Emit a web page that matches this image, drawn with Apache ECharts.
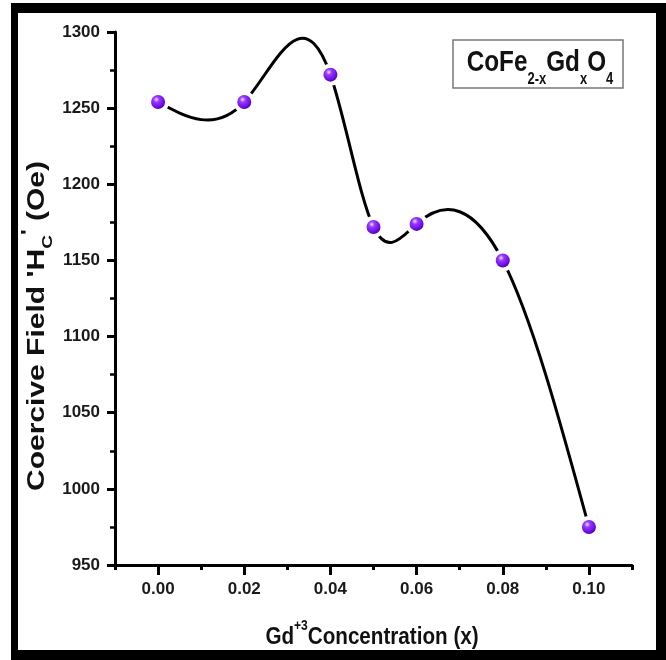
<!DOCTYPE html>
<html>
<head>
<meta charset="utf-8">
<script src="https://cdn.jsdelivr.net/npm/echarts@6/dist/echarts.min.js"></script>
<style>
  html, body { margin: 0; padding: 0; background: #fff; }
  #chart { width: 666px; height: 660px; }
</style>
</head>
<body>
<div id="chart"></div>
<script>
// Gd substitution level x in CoFe(2-x)Gd(x)O4 and measured coercivity
const concentration = [0.00, 0.02, 0.04, 0.05, 0.06, 0.08, 0.10];
const coercivity = [1254, 1254, 1272, 1172, 1174, 1150, 975];

// axis ticks
const xMajorTicks = [0.00, 0.02, 0.04, 0.06, 0.08, 0.10];
const xMinorTicks = [-0.01, 0.01, 0.03, 0.05, 0.07, 0.09, 0.11];

const SANS = "'Liberation Sans', Arial, sans-serif";
const INK = '#111';

const points = concentration.map((x, i) => [x, coercivity[i]]);

// Natural cubic spline through the measured points (second derivatives),
// used to draw the connecting curve as exact Bezier segments.
function splineSecondDerivs(xs, ys) {
  const n = xs.length;
  const M = new Array(n).fill(0);
  if (n < 3) return M;
  const a = [], b = [], c = [], d = [];
  for (let i = 1; i < n - 1; i++) {
    const h0 = xs[i] - xs[i - 1], h1 = xs[i + 1] - xs[i];
    a.push(h0); b.push(2 * (h0 + h1)); c.push(h1);
    d.push(6 * ((ys[i + 1] - ys[i]) / h1 - (ys[i] - ys[i - 1]) / h0));
  }
  const m = b.length;
  for (let i = 1; i < m; i++) {
    const w = a[i] / b[i - 1];
    b[i] -= w * c[i - 1];
    d[i] -= w * d[i - 1];
  }
  const sol = new Array(m);
  sol[m - 1] = d[m - 1] / b[m - 1];
  for (let i = m - 2; i >= 0; i--) sol[i] = (d[i] - c[i] * sol[i + 1]) / b[i];
  for (let i = 0; i < m; i++) M[i + 1] = sol[i];
  return M;
}
const M2 = splineSecondDerivs(concentration, coercivity);

const sphere = {
  type: 'radial', x: 0.38, y: 0.32, r: 0.7,
  colorStops: [
    { offset: 0, color: '#eedcff' },
    { offset: 0.3, color: '#9638ff' },
    { offset: 0.75, color: '#7010e8' },
    { offset: 1, color: '#4e00b4' }
  ]
};

const chart = echarts.init(document.getElementById('chart'), null, { renderer: 'canvas' });

chart.setOption({
  backgroundColor: '#ffffff',
  animation: false,
  grid: { left: 115, top: 32, right: 34, bottom: 95, containLabel: false, outerBoundsMode: 'none' },
  xAxis: [
    {
      type: 'value', min: -0.01, max: 0.11,
      position: 'bottom',
      splitLine: { show: false },
      axisLine: { show: true, onZero: false, lineStyle: { color: '#000', width: 3 } },
      axisTick: { show: true, customValues: xMajorTicks, length: 10, lineStyle: { color: '#000', width: 3 } },
      axisLabel: {
        show: true, customValues: xMajorTicks, margin: 16,
        formatter: v => v.toFixed(2),
        fontFamily: SANS, fontWeight: 'bold', fontSize: 17, color: '#1a1a1a'
      }
    },
    {
      type: 'value', min: -0.01, max: 0.11,
      position: 'bottom',
      splitLine: { show: false },
      axisLine: { show: false, onZero: false },
      axisTick: { show: true, customValues: xMinorTicks, length: 5, lineStyle: { color: '#000', width: 3 } },
      axisLabel: { show: false }
    }
  ],
  yAxis: {
    type: 'value', min: 950, max: 1300, interval: 50,
    splitLine: { show: false },
    axisLine: { show: true, onZero: false, lineStyle: { color: '#000', width: 3 } },
    axisTick: { show: true, length: 8, lineStyle: { color: '#000', width: 3 } },
    minorTick: { show: true, splitNumber: 2, length: 5, lineStyle: { color: '#000', width: 2.5 } },
    minorSplitLine: { show: false },
    axisLabel: {
      margin: 15, formatter: v => String(v),
      fontFamily: SANS, fontWeight: 'bold', fontSize: 17, color: '#1a1a1a'
    }
  },
  series: [
    {
      name: 'curve',
      type: 'custom',
      data: points,
      encode: { x: 0, y: 1 },
      z: 2,
      silent: true,
      renderItem: function (params, api) {
        const i = params.dataIndex;
        if (i >= concentration.length - 1) return null;
        const x0 = concentration[i], x1 = concentration[i + 1];
        const y0 = coercivity[i], y1 = coercivity[i + 1];
        const h = x1 - x0;
        const dy = (y1 - y0) / h;
        const s0 = dy - M2[i] * h / 3 - M2[i + 1] * h / 6;
        const s1 = dy + M2[i + 1] * h / 3 + M2[i] * h / 6;
        const p0 = api.coord([x0, y0]);
        const p1 = api.coord([x1, y1]);
        const c0 = api.coord([x0 + h / 3, y0 + s0 * h / 3]);
        const c1 = api.coord([x1 - h / 3, y1 - s1 * h / 3]);
        return {
          type: 'bezierCurve',
          shape: { x1: p0[0], y1: p0[1], x2: p1[0], y2: p1[1], cpx1: c0[0], cpy1: c0[1], cpx2: c1[0], cpy2: c1[1] },
          style: { stroke: '#000', lineWidth: 3, fill: null }
        };
      }
    },
    {
      name: 'gap',
      type: 'scatter',
      data: points,
      symbol: 'circle',
      symbolSize: 22,
      itemStyle: { color: '#ffffff', opacity: 1 },
      silent: true,
      z: 3
    },
    {
      name: 'Hc',
      type: 'scatter',
      data: points,
      symbol: 'circle',
      symbolSize: 14,
      itemStyle: { color: sphere, opacity: 1 },
      z: 4
    }
  ],
  graphic: [
    // outer frame
    { type: 'rect', shape: { x: 11, y: 3, width: 655, height: 10 }, style: { fill: '#000' }, z: 100 },
    { type: 'rect', shape: { x: 11, y: 650, width: 655, height: 10 }, style: { fill: '#000' }, z: 100 },
    { type: 'rect', shape: { x: 11, y: 3, width: 7, height: 657 }, style: { fill: '#000' }, z: 100 },
    { type: 'rect', shape: { x: 656, y: 3, width: 10, height: 657 }, style: { fill: '#000' }, z: 100 },
    // sample formula box
    {
      type: 'rect', shape: { x: 453, y: 40, width: 170, height: 48 },
      style: { fill: '#fff', stroke: '#777', lineWidth: 1.5 }, z: 50
    },
    {
      type: 'text', x: 540, y: 63, scaleX: 0.81, z: 51,
      style: {
        text: '{m|CoFe}{s|2-x}{m|Gd}{s|x}{m|O}{s|4}',
        align: 'center', verticalAlign: 'middle',
        rich: {
          m: { fontFamily: SANS, fontWeight: 'bold', fontSize: 30, lineHeight: 50, fill: INK },
          s: { fontFamily: SANS, fontWeight: 'bold', fontSize: 16, lineHeight: 20, verticalAlign: 'bottom', fill: INK }
        }
      }
    },
    // y axis title
    {
      type: 'text', x: 37, y: 326, rotation: Math.PI / 2, scaleY: 0.8, z: 51,
      style: {
        text: "{m|Coercive Field 'H}{sub|C}{sup|'}{m| (Oe)}",
        align: 'center', verticalAlign: 'middle',
        rich: {
          m: { fontFamily: SANS, fontWeight: 'bold', fontSize: 30, lineHeight: 46, fill: INK },
          sub: { fontFamily: SANS, fontWeight: 'bold', fontSize: 19, lineHeight: 30, verticalAlign: 'bottom', fill: INK },
          sup: { fontFamily: SANS, fontWeight: 'bold', fontSize: 24, lineHeight: 30, verticalAlign: 'top', fill: INK }
        }
      }
    },
    // x axis title
    {
      type: 'text', x: 372, y: 637, scaleX: 0.86, z: 51,
      style: {
        text: '{m|Gd}{sup|+3}{m|Concentration (x)}',
        align: 'center', verticalAlign: 'middle',
        rich: {
          m: { fontFamily: SANS, fontWeight: 'bold', fontSize: 24, lineHeight: 36, fill: INK },
          sup: { fontFamily: SANS, fontWeight: 'bold', fontSize: 14, lineHeight: 22, verticalAlign: 'top', fill: INK }
        }
      }
    }
  ]
});
</script>
</body>
</html>
